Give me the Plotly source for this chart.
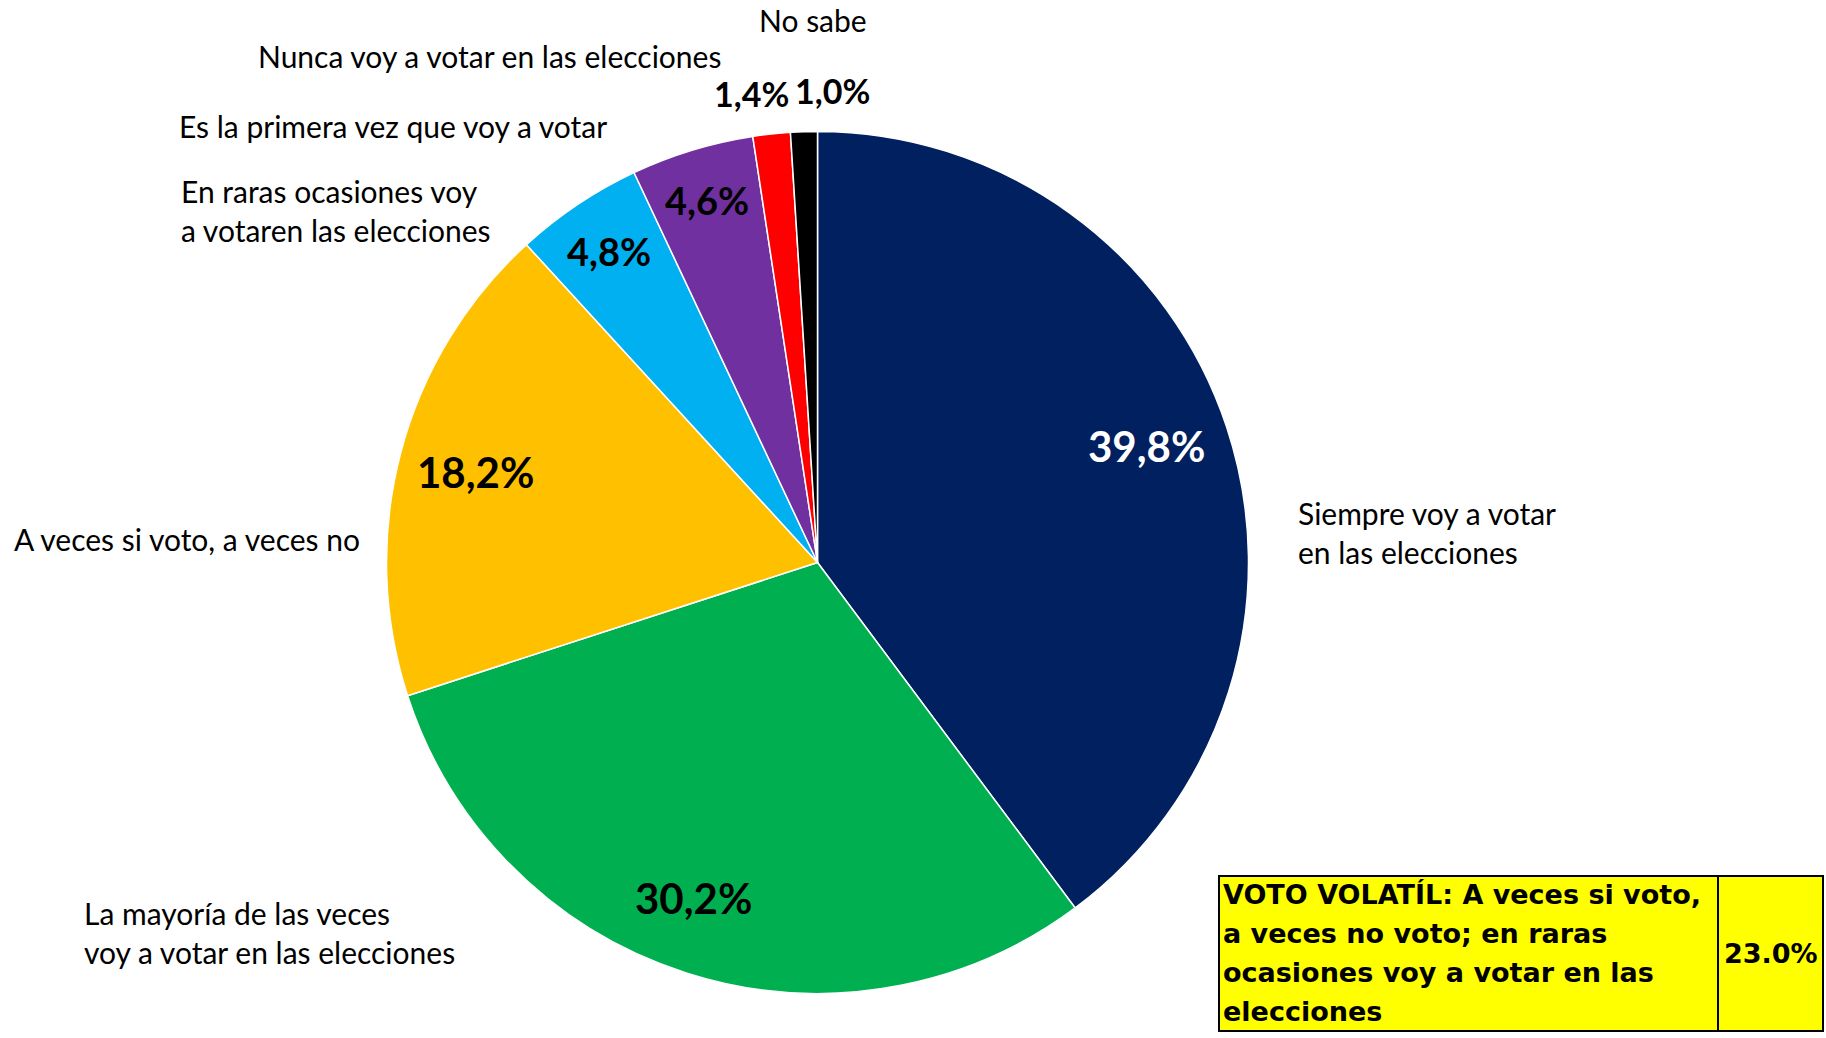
import math
import plotly.graph_objects as go

categories = [
    "Siempre voy a votar<br>en las elecciones",
    "La mayoría de las veces<br>voy a votar en las elecciones",
    "A veces si voto, a veces no",
    "En raras ocasiones voy<br>a votaren las elecciones",
    "Es la primera vez que voy a votar",
    "Nunca voy a votar en las elecciones",
    "No sabe",
]
values = [39.8, 30.2, 18.2, 4.8, 4.6, 1.4, 1.0]
colors = ["#002060", "#00B050", "#FFC000", "#00B0F0", "#7030A0", "#FF0000", "#000000"]
text_colors = ["white", "black", "black", "black", "black", "black", "black"]
box_lines = [
    "VOTO VOLATÍL: A veces si voto,",
    "a veces no voto; en raras",
    "ocasiones voy a votar en las",
    "elecciones",
]
box_value = "23.0%"

# label style / placement (not data)
pct_sizes = [42, 42, 42, 38, 38, 34, 34]
pct_radius = [0.81, 0.83, 0.82, 0.87, 0.88, 1.10, 1.095]
pct_angle_shift = [-1.1, 2.7, 0, 0, 0, -1.9, 3.6]   # degrees

W, H = 1826, 1038
def px(x):
    return x / W
def py(y):
    return 1 - y / H

cx, cy, R = 817.5, 562.5, 431

labels_pct = [f"{v:.1f}".replace(".", ",") + "%" for v in values]

fig = go.Figure()
fig.add_trace(go.Pie(
    labels=[c.replace("<br>", " ") for c in categories],
    values=values,
    textinfo="none",
    sort=False,
    direction="clockwise",
    rotation=0,
    marker=dict(colors=colors, line=dict(color="white", width=1.5)),
    domain=dict(x=[px(cx - R), px(cx + R)], y=[py(cy + R), py(cy - R)]),
    showlegend=False,
    hoverinfo="label+percent",
))

annotations = []
# percentage labels, placed at each slice's mid angle
total = sum(values)
cum = 0.0
for v, t, col, fs, f, sh in zip(values, labels_pct, text_colors, pct_sizes, pct_radius, pct_angle_shift):
    mid = (cum + v / 2) / total
    cum += v
    ang = math.radians(mid * 360 + sh)
    x = cx + f * R * math.sin(ang)
    y = cy - f * R * math.cos(ang)
    annotations.append(dict(
        x=px(x), y=py(y), xref="paper", yref="paper",
        text=t, showarrow=False, xanchor="center", yanchor="middle",
        font=dict(family="Lato", size=fs, weight="bold", color=col),
    ))

# category label positions (px, left edge / vertical centre)
label_pos = [
    (1296, 532),
    (82, 932),
    (12, 539),
    (179, 210),
    (177, 126),
    (256, 56),
    (757, 20),
]
for c, (x, y) in zip(categories, label_pos):
    annotations.append(dict(
        x=px(x), y=py(y), xref="paper", yref="paper",
        text=c, showarrow=False, xanchor="left", yanchor="middle", align="left",
        font=dict(family="Lato", size=30, color="black"),
    ))

bx0, bx1, by0, by1, bdiv = 1219, 1823, 876, 1031, 1718
line_y = [894, 933, 972, 1011]
for t, y in zip(box_lines, line_y):
    annotations.append(dict(
        x=px(bx0 + 2), y=py(y), xref="paper", yref="paper",
        text=t, showarrow=False, xanchor="left", yanchor="middle",
        font=dict(family="DejaVu Sans", size=27, weight="bold", color="black"),
    ))
annotations.append(dict(
    x=px((bdiv + bx1) / 2), y=py(953), xref="paper", yref="paper",
    text=box_value, showarrow=False, xanchor="center", yanchor="middle",
    font=dict(family="DejaVu Sans", size=27, weight="bold", color="black"),
))

shapes = [
    dict(type="rect", xref="paper", yref="paper", x0=px(bx0), x1=px(bx1), y0=py(by1), y1=py(by0),
         fillcolor="#FFFF00", line=dict(color="black", width=2), layer="below"),
    dict(type="line", xref="paper", yref="paper", x0=px(bdiv), x1=px(bdiv), y0=py(by1), y1=py(by0),
         line=dict(color="black", width=2)),
]

fig.update_layout(
    width=W, height=H,
    margin=dict(l=0, r=0, t=0, b=0),
    paper_bgcolor="white", plot_bgcolor="white",
    annotations=annotations, shapes=shapes,
)

fig.write_html(
    "out.html",
    config={"displayModeBar": False},
    post_script="document.body.style.margin='0';document.body.style.overflow='hidden';",
)
